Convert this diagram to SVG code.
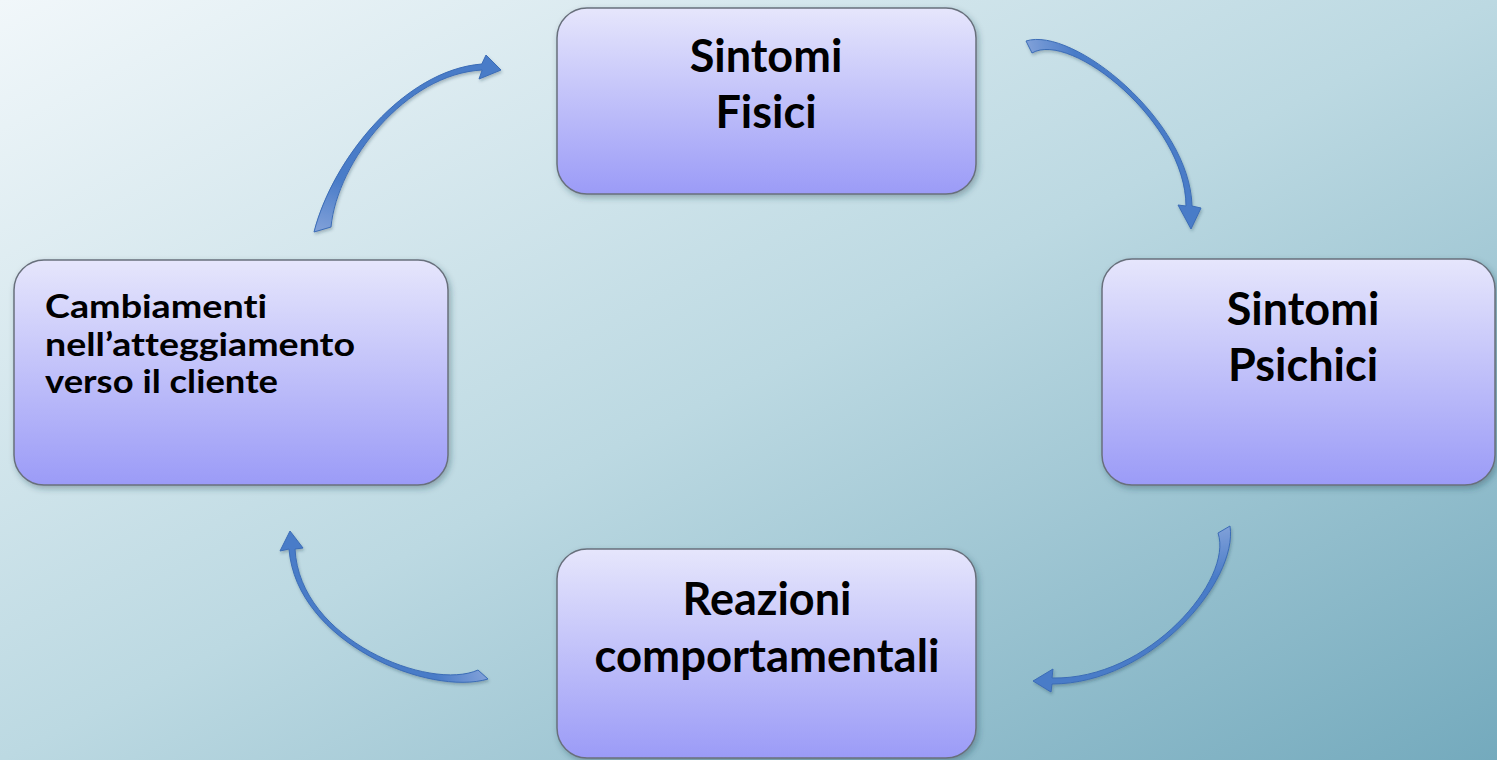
<svg xmlns="http://www.w3.org/2000/svg" width="1497" height="760" viewBox="0 0 1497 760">
  <defs>
    <linearGradient id="bg" x1="0" y1="0" x2="1" y2="1">
      <stop offset="0" stop-color="#f1f7fa"/>
      <stop offset="0.5" stop-color="#bcd9e2"/>
      <stop offset="1" stop-color="#74aabd"/>
    </linearGradient>
    <linearGradient id="nodeFill" x1="0" y1="0" x2="0" y2="1">
      <stop offset="0" stop-color="#e6e6fc"/>
      <stop offset="1" stop-color="#9b9bf7"/>
    </linearGradient>
    <linearGradient id="a1" gradientUnits="userSpaceOnUse" x1="323" y1="230" x2="338" y2="180">
      <stop offset="0" stop-color="#7e9fd8"/><stop offset="1" stop-color="#4a7cc8"/>
    </linearGradient>
    <linearGradient id="a2" gradientUnits="userSpaceOnUse" x1="1029" y1="47" x2="1072" y2="40">
      <stop offset="0" stop-color="#7e9fd8"/><stop offset="1" stop-color="#4a7cc8"/>
    </linearGradient>
    <linearGradient id="a3" gradientUnits="userSpaceOnUse" x1="1224" y1="529" x2="1232" y2="575">
      <stop offset="0" stop-color="#7e9fd8"/><stop offset="1" stop-color="#4a7cc8"/>
    </linearGradient>
    <linearGradient id="a4" gradientUnits="userSpaceOnUse" x1="483" y1="675" x2="440" y2="688">
      <stop offset="0" stop-color="#7e9fd8"/><stop offset="1" stop-color="#4a7cc8"/>
    </linearGradient>
    <filter id="shadow" x="-10%" y="-10%" width="120%" height="130%">
      <feDropShadow dx="2" dy="3" stdDeviation="3" flood-color="#1c3a4a" flood-opacity="0.35"/>
    </filter>
    <filter id="ashadow" x="-10%" y="-10%" width="130%" height="130%">
      <feDropShadow dx="1" dy="2" stdDeviation="1.5" flood-color="#1c3a4a" flood-opacity="0.3"/>
    </filter>
  </defs>
  <style>
    .node rect { fill: url(#nodeFill); stroke: #68707c; stroke-width: 1.5; filter: url(#shadow); }
    text { font-family: Lato, "Open Sans", sans-serif; font-weight: bold; fill: #000; font-variant-ligatures: none; }
    .big { font-size: 45px; text-anchor: middle; }
    .small { font-size: 32px; }
    .arrow { stroke: #3b6cb6; stroke-width: 1; stroke-linejoin: round; filter: url(#ashadow); }
  </style>
  <rect x="0" y="0" width="1497" height="760" fill="url(#bg)"/>

  <g id="connectors">
    <path class="arrow" fill="url(#a1)" d="M314,232 C332.8,158.8 403.9,70.3 481.8,64 L486,55 L501,70 L479,79 L482.2,70 C406.1,73.7 337.2,161.2 331,227 Z"/>
    <path class="arrow" fill="url(#a2)" d="M1026,41 C1073,26 1190,121 1192,206 L1201,208 L1191,229 L1178,205 L1186,206 C1186,123 1071,30 1032,53 Z"/>
    <path class="arrow" fill="url(#a3)" d="M1230,526 C1238.3,581.1 1151,683.8 1052,684 L1051,692 L1033,681 L1053,669 L1052,678 C1149,680.2 1233.7,578.9 1218,533 Z"/>
    <path class="arrow" fill="url(#a4)" d="M488,679 C429.6,696.5 296.5,643.4 289,549 L280,551 L290,531 L303,548 L295,549 C299.5,640.6 430.4,691.5 478,670 Z"/>
  </g>

  <g id="node-fisici" class="node">
    <rect x="557" y="8" width="419" height="186" rx="30"/>
    <text class="big" x="766" y="72">Sintomi</text>
    <text class="big" x="766" y="128">Fisici</text>
  </g>

  <g id="node-psichici" class="node">
    <rect x="1102" y="259" width="393" height="226" rx="30"/>
    <text class="big" x="1303" y="325">Sintomi</text>
    <text class="big" x="1303" y="381">Psichici</text>
  </g>

  <g id="node-reazioni" class="node">
    <rect x="557" y="549" width="419" height="209" rx="30"/>
    <text class="big" x="767" y="615">Reazioni</text>
    <text class="big" x="767" y="672" textLength="345" lengthAdjust="spacingAndGlyphs">comportamentali</text>
  </g>

  <g id="node-cambiamenti" class="node">
    <rect x="14" y="260" width="434" height="225" rx="30"/>
    <text class="small" x="45" y="318" textLength="222" lengthAdjust="spacingAndGlyphs">Cambiamenti</text>
    <text class="small" x="45" y="356" textLength="310" lengthAdjust="spacingAndGlyphs">nell’atteggiamento</text>
    <text class="small" x="45" y="393" textLength="233" lengthAdjust="spacingAndGlyphs">verso il cliente</text>
  </g>
</svg>
